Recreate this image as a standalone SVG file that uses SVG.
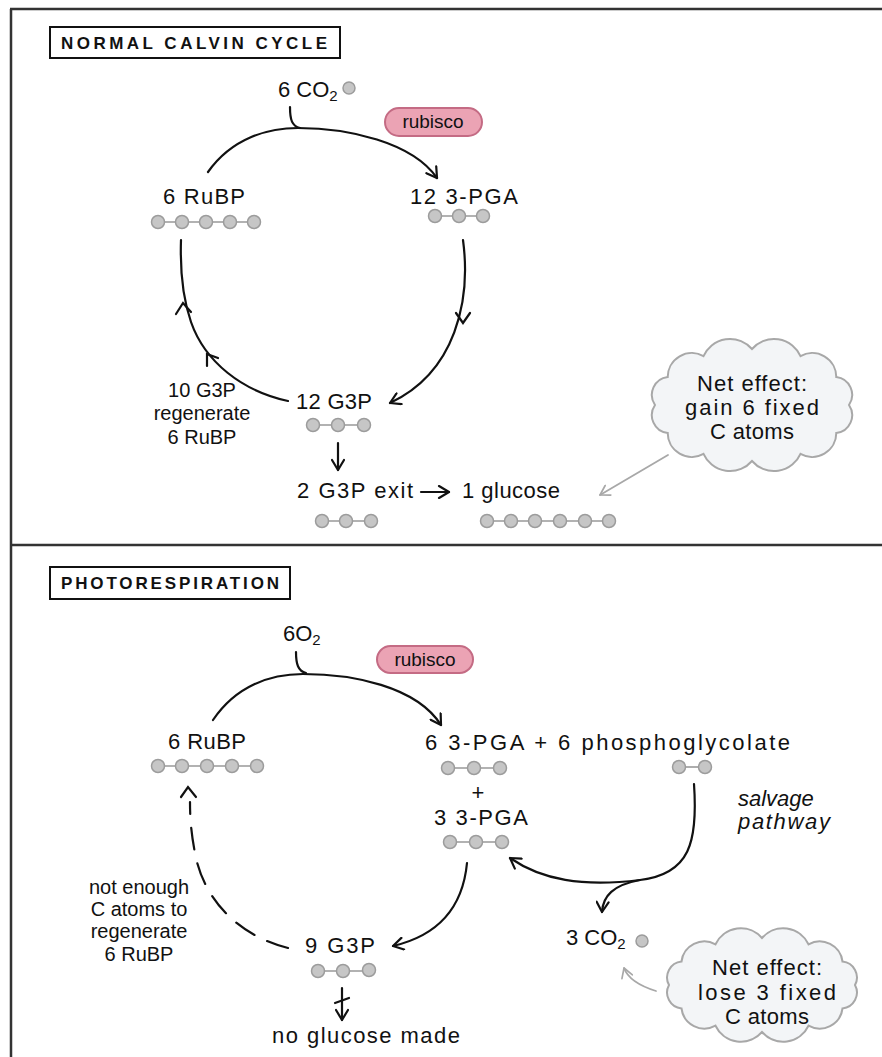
<svg xmlns="http://www.w3.org/2000/svg" width="882" height="1057" viewBox="0 0 882 1057">
<style>
text{font-family:"Liberation Sans","DejaVu Sans",sans-serif;fill:#111;font-size:22px}
.s{font-size:20px}
.r{font-size:19px}
.cap{font-size:17px;font-weight:bold}
.mid{text-anchor:middle}
.frame{stroke:#333;stroke-width:2.5;fill:none}
.box{fill:#fff;stroke:#111;stroke-width:2}
.atom{fill:#c6c6c6;stroke:#9c9c9c;stroke-width:1.5}
.bond{stroke:#999;stroke-width:1.6}
.pill{fill:#eba3b4;stroke:#c46b84;stroke-width:2}
.cloud{fill:#f3f5f7;stroke:#a8a8a8;stroke-width:2}
.c{fill:none;stroke:#111;stroke-width:2.2;stroke-linecap:round}
.cg{fill:none;stroke:#a8a8a8;stroke-width:1.8;stroke-linecap:round}
.dash{stroke-dasharray:22 14}
</style>
<defs>
<marker id="arr" viewBox="0 0 14 14" refX="12" refY="7" markerWidth="14" markerHeight="14" markerUnits="userSpaceOnUse" orient="auto">
<path d="M2,1 L12,7 L2,13" fill="none" stroke="#111" stroke-width="2.2" stroke-linecap="round" stroke-linejoin="round"/>
</marker>
<marker id="arrg" viewBox="0 0 14 14" refX="12" refY="7" markerWidth="13" markerHeight="13" markerUnits="userSpaceOnUse" orient="auto">
<path d="M2,1 L12,7 L2,13" fill="none" stroke="#a8a8a8" stroke-width="1.8" stroke-linecap="round" stroke-linejoin="round"/>
</marker>
</defs>
<rect width="882" height="1057" fill="#fff"/>
<g id="frame">
<path class="frame" d="M10,9 L882,9 M11,9 L11,1057 M10,545 L882,545"/>
</g>

<!-- TOP PANEL -->
<g id="title-normal"><rect class="box" x="50" y="27" width="290" height="31"/><text class="cap" x="61" y="49" textLength="266" lengthAdjust="spacing">NORMAL CALVIN CYCLE</text></g>
<g id="co2-top"><text x="278" y="97">6 CO<tspan dy="4" font-size="15">2</tspan></text><circle class="atom" cx="349" cy="88" r="6"/></g>
<g id="rubisco-top"><rect class="pill" x="385" y="108" width="97" height="28" rx="14"/><text class="r mid" x="433" y="128">rubisco</text></g>
<g id="rubp-top"><text x="163" y="204" textLength="82" lengthAdjust="spacing">6 RuBP</text>
<path class="bond" d="M158,222 L254,222"/>
<circle class="atom" cx="158" cy="222" r="6.5"/><circle class="atom" cx="182" cy="222" r="6.5"/><circle class="atom" cx="206" cy="222" r="6.5"/><circle class="atom" cx="230" cy="222" r="6.5"/><circle class="atom" cx="254" cy="222" r="6.5"/></g>
<g id="pga-top"><text x="410" y="204" textLength="108" lengthAdjust="spacing">12 3-PGA</text>
<path class="bond" d="M435,216 L483,216"/>
<circle class="atom" cx="435" cy="216" r="6.5"/><circle class="atom" cx="459" cy="216" r="6.5"/><circle class="atom" cx="483" cy="216" r="6.5"/></g>
<g id="regen-label"><text class="s mid" x="202" y="397">10 G3P</text><text class="s mid" x="202" y="420">regenerate</text><text class="s mid" x="202" y="444">6 RuBP</text></g>
<g id="g3p-top"><text x="296" y="409" textLength="76" lengthAdjust="spacing">12 G3P</text>
<path class="bond" d="M313,425 L364,425"/>
<circle class="atom" cx="313" cy="425" r="6.5"/><circle class="atom" cx="338" cy="425" r="6.5"/><circle class="atom" cx="364" cy="425" r="6.5"/></g>
<g id="exit-top"><text x="297" y="498" textLength="116" lengthAdjust="spacing">2 G3P exit</text>
<path class="bond" d="M322,521 L371,521"/>
<circle class="atom" cx="322" cy="521" r="6.5"/><circle class="atom" cx="346" cy="521" r="6.5"/><circle class="atom" cx="371" cy="521" r="6.5"/></g>
<g id="glucose-top"><text x="462" y="498" textLength="98" lengthAdjust="spacing">1 glucose</text>
<path class="bond" d="M487,521 L609,521"/>
<circle class="atom" cx="487" cy="521" r="6.5"/><circle class="atom" cx="511" cy="521" r="6.5"/><circle class="atom" cx="535" cy="521" r="6.5"/><circle class="atom" cx="560" cy="521" r="6.5"/><circle class="atom" cx="585" cy="521" r="6.5"/><circle class="atom" cx="609" cy="521" r="6.5"/></g>
<g id="cloud-top">
<path class="cloud" d="M849,405 A18,18 0 0 1 836.3,433 A24,24 0 0 1 800.5,453.8 A29,29 0 0 1 752,461 A29,29 0 0 1 703.5,453.8 A24,24 0 0 1 667.7,433 A18,18 0 0 1 655,405 A18,18 0 0 1 667.7,377 A24,24 0 0 1 703.5,356.2 A29,29 0 0 1 752,349 A29,29 0 0 1 800.5,356.2 A24,24 0 0 1 836.3,377 A18,18 0 0 1 849,405 Z"/>
<text class="mid" x="752" y="391" textLength="110" lengthAdjust="spacing">Net effect:</text><text class="mid" x="752" y="415" textLength="134" lengthAdjust="spacing">gain 6 fixed</text><text class="mid" x="752" y="439" textLength="84" lengthAdjust="spacing">C atoms</text></g>

<!-- BOTTOM PANEL -->
<g id="title-photo"><rect class="box" x="50" y="567" width="240" height="32"/><text class="cap" x="61" y="589" textLength="218" lengthAdjust="spacing">PHOTORESPIRATION</text></g>
<g id="o2-bottom"><text x="283" y="641">6O<tspan dy="4" font-size="15">2</tspan></text></g>
<g id="rubisco-bottom"><rect class="pill" x="377" y="646" width="96" height="27" rx="13.5"/><text class="r mid" x="425" y="666">rubisco</text></g>
<g id="rubp-bottom"><text x="168" y="749" textLength="78" lengthAdjust="spacing">6 RuBP</text>
<path class="bond" d="M158,766 L257,766"/>
<circle class="atom" cx="158" cy="766" r="6.5"/><circle class="atom" cx="182" cy="766" r="6.5"/><circle class="atom" cx="207" cy="766" r="6.5"/><circle class="atom" cx="232" cy="766" r="6.5"/><circle class="atom" cx="257" cy="766" r="6.5"/></g>
<g id="products-bottom"><text x="425" y="750" font-size="23" textLength="365" lengthAdjust="spacing">6 3-PGA + 6 phosphoglycolate</text>
<path class="bond" d="M448,768 L500,768"/>
<circle class="atom" cx="448" cy="768" r="6.5"/><circle class="atom" cx="474" cy="768" r="6.5"/><circle class="atom" cx="500" cy="768" r="6.5"/>
<path class="bond" d="M679,767 L705,767"/>
<circle class="atom" cx="679" cy="767" r="6.5"/><circle class="atom" cx="705" cy="767" r="6.5"/>
<text class="mid" x="478" y="800">+</text></g>
<g id="pga3-bottom"><text x="434" y="825" textLength="94" lengthAdjust="spacing">3 3-PGA</text>
<path class="bond" d="M450,842 L502,842"/>
<circle class="atom" cx="450" cy="842" r="6.5"/><circle class="atom" cx="476" cy="842" r="6.5"/><circle class="atom" cx="502" cy="842" r="6.5"/></g>
<g id="salvage-label"><text x="738" y="806" font-size="21" font-style="italic">salvage</text><text x="738" y="829" font-size="21" font-style="italic" textLength="92" lengthAdjust="spacing">pathway</text></g>
<g id="notenough-label"><text class="s mid" x="139" y="894">not enough</text><text class="s mid" x="139" y="916">C atoms to</text><text class="s mid" x="139" y="938">regenerate</text><text class="s mid" x="139" y="961">6 RuBP</text></g>
<g id="g3p-bottom"><text x="305" y="953" textLength="70" lengthAdjust="spacing">9 G3P</text>
<path class="bond" d="M318,971 L369,971"/>
<circle class="atom" cx="318" cy="971" r="6.5"/><circle class="atom" cx="343" cy="971" r="6.5"/><circle class="atom" cx="369" cy="970" r="6.5"/></g>
<g id="noglucose"><text x="272" y="1043" textLength="188" lengthAdjust="spacing">no glucose made</text></g>
<g id="co2-bottom"><text x="566" y="945">3 CO<tspan dy="4" font-size="15">2</tspan></text><circle class="atom" cx="642" cy="941" r="6"/></g>
<g id="cloud-bottom">
<path class="cloud" d="M855,985 A16,16 0 0 1 842.5,1008.5 A23,23 0 0 1 808.5,1025.7 A28,28 0 0 1 762,1032 A28,28 0 0 1 715.5,1025.7 A23,23 0 0 1 681.5,1008.5 A16,16 0 0 1 669,985 A16,16 0 0 1 681.5,961.5 A23,23 0 0 1 715.5,944.3 A28,28 0 0 1 762,938 A28,28 0 0 1 808.5,944.3 A23,23 0 0 1 842.5,961.5 A16,16 0 0 1 855,985 Z"/>
<text class="mid" x="767" y="975" textLength="110" lengthAdjust="spacing">Net effect:</text><text class="mid" x="767" y="1000" textLength="138" lengthAdjust="spacing">lose 3 fixed</text><text class="mid" x="767" y="1024" textLength="84" lengthAdjust="spacing">C atoms</text></g>

<g id="connectors">
<!-- top -->
<path class="c" d="M290,107 C290,120 292,126 300,128"/>
<path class="c" d="M208,172 C232,138 268,128 298,128 C348,128 412,142 437,178" marker-end="url(#arr)"/>
<path class="c" d="M463,240 C471,300 456,372 390,403" marker-end="url(#arr)"/>
<path class="c" d="M456,313 L463,323 L470,313"/>
<path class="c" d="M288,401 C242,391 205,362 191,322 C182,296 180,270 181,240"/>
<path class="c" d="M176,314 L183,303 L191,312"/>
<path class="c" d="M218,358 L207,354 L207,366"/>
<path class="c" d="M338,443 L338,470" marker-end="url(#arr)"/>
<path class="c" d="M421,492 L449,492" marker-end="url(#arr)"/>
<path class="cg" d="M668,455 L600,495" marker-end="url(#arrg)"/>
<!-- bottom -->
<path class="c" d="M296,652 C296,664 298,671 306,673"/>
<path class="c" d="M213,720 C236,686 270,674 303,674 C352,674 416,686 441,725" marker-end="url(#arr)"/>
<path class="c" d="M694,784 C698,842 690,874 640,880 C582,887 542,880 510,858" marker-end="url(#arr)"/>
<path class="c" d="M640,880 C613,885 603,896 602,912" marker-end="url(#arr)"/>
<path class="c" d="M467,863 C463,905 440,935 393,946" marker-end="url(#arr)"/>
<path class="c dash" d="M288,948 C240,936 206,902 196,858 C191,834 190,818 190,802"/>
<path class="c" d="M181,797 L188,787 L196,797"/>
<path class="c" d="M342,988 L342,1020" marker-end="url(#arr)"/>
<path class="c" d="M335,1003 L349,998"/>
<path class="cg" d="M656,991 C640,986 628,979 624,968" marker-end="url(#arrg)"/>
</g>
</svg>
